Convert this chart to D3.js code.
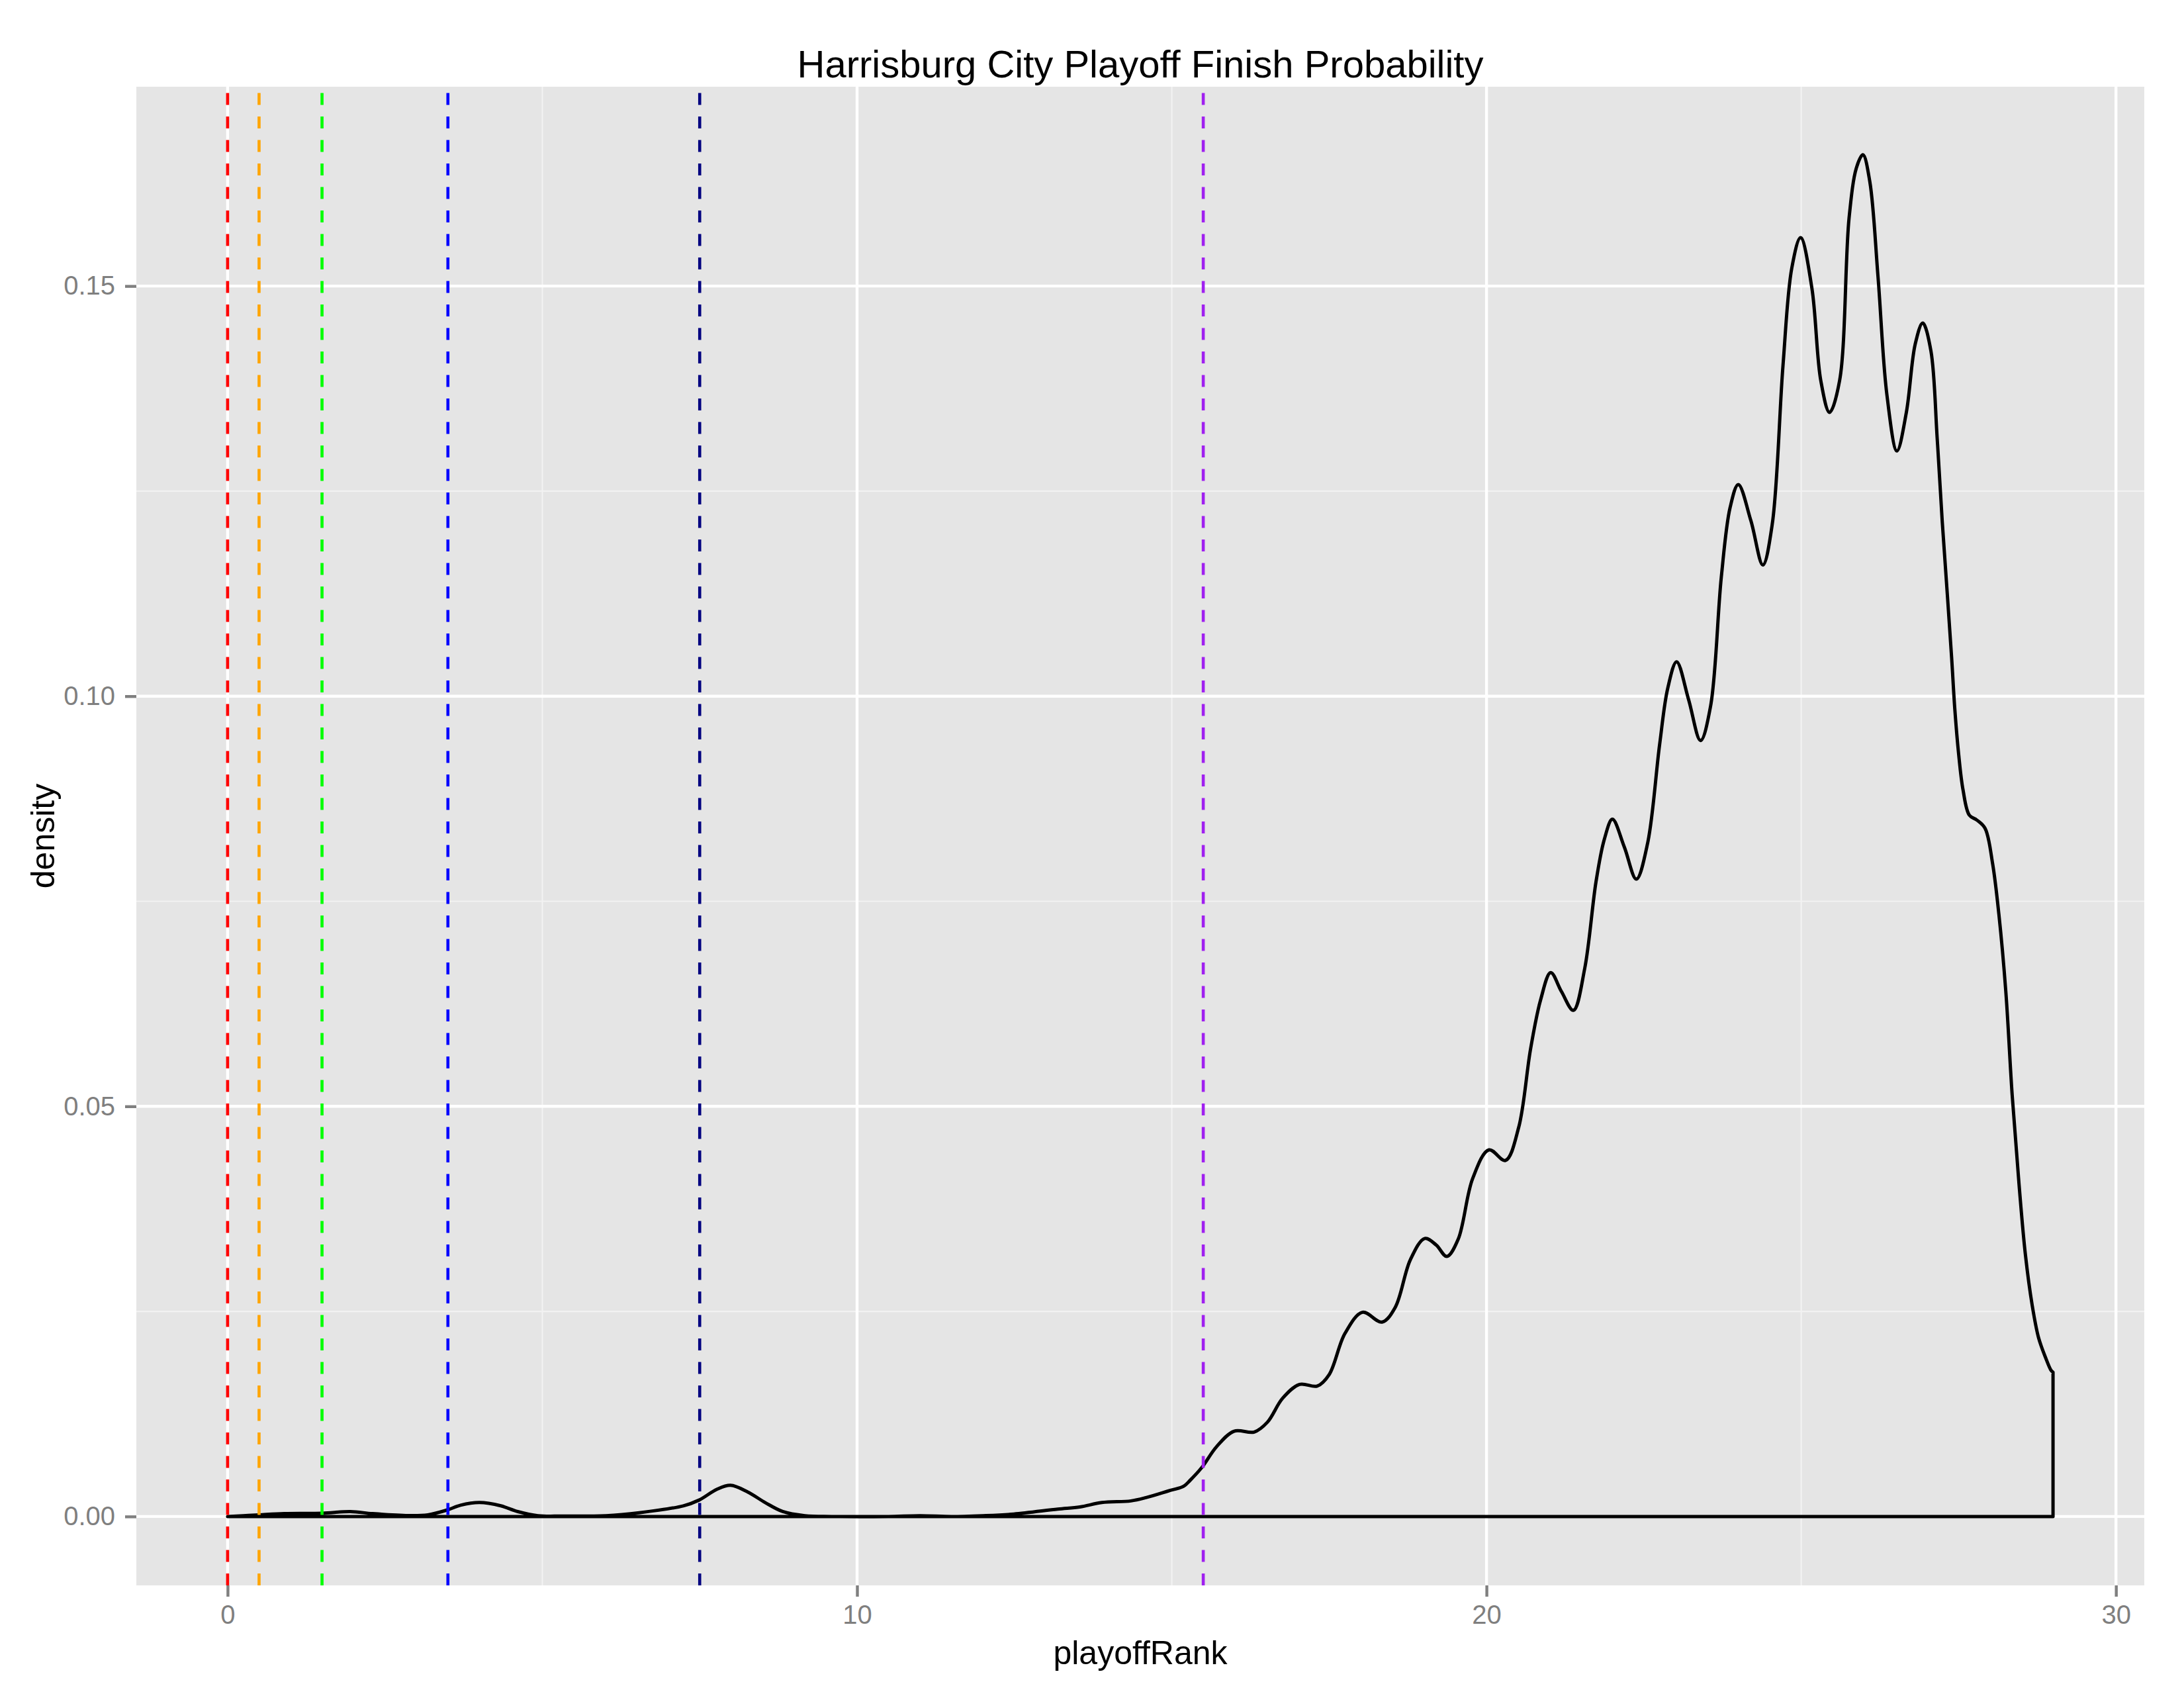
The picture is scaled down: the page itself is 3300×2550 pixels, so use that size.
<!DOCTYPE html>
<html>
<head>
<meta charset="utf-8">
<script src="https://d3js.org/d3.v7.min.js"></script>
<style>
  html, body { margin: 0; padding: 0; background: #ffffff; }
  svg { display: block; }
  text { font-family: "Liberation Sans", Arial, Helvetica, sans-serif; }
</style>
</head>
<body>
<script>
// ---- data ----
const titleText = "Harrisburg City Playoff Finish Probability";
const xLabel = "playoffRank";
const yLabel = "density";

const xTicks = [0, 10, 20, 30];
const xMinorTicks = [5, 15, 25];
const yTicks = [0, 0.05, 0.10, 0.15];
const yMinorTicks = [0.025, 0.075, 0.125];

// density estimate of playoffRank (x, density)
const rankX = [
  0, 0.25, 0.5, 0.9, 1.5, 1.95, 2.3, 2.83, 3.18, 3.49, 3.7, 4.0, 4.34, 4.61, 4.93, 5.31,
  6.01, 6.54, 7.24, 7.49, 7.77, 7.99, 8.26, 8.54, 8.82, 9.17, 9.6, 10.5, 11.0, 11.5, 12.0,
  12.49, 13.19, 13.54, 13.89, 14.35, 14.59, 14.94, 15.19, 15.29, 15.48, 15.71, 15.99,
  16.31, 16.52, 16.76, 17.03, 17.31, 17.5, 17.75, 18.03, 18.34, 18.55, 18.79, 19.02,
  19.2, 19.37, 19.55, 19.78, 20.04, 20.30, 20.51, 20.70, 20.86, 21.02, 21.19, 21.38,
  21.56, 21.74, 21.87, 22.0, 22.19, 22.38, 22.56, 22.75, 22.88, 23.02, 23.21, 23.40,
  23.56, 23.73, 23.87, 24.0, 24.2, 24.39, 24.54, 24.71, 24.85, 24.99, 25.17, 25.31,
  25.45, 25.61, 25.76, 25.88, 25.98, 26.09, 26.22, 26.36, 26.52, 26.67, 26.81, 26.93,
  27.06, 27.16, 27.24, 27.32, 27.39, 27.44, 27.50, 27.57, 27.67, 27.79, 27.92, 28.04,
  28.14, 28.25, 28.35, 28.46, 28.56, 28.67, 28.77, 28.88, 28.97, 29.0
];
const densityY = [
  0.0000, 0.0001, 0.0002, 0.00036, 0.0004, 0.0006, 0.00035, 0.00012, 0.0002, 0.0008, 0.00137, 0.0017, 0.0013, 0.0006, 0.0001, 0.00005,
  0.0001, 0.00046, 0.0013, 0.0020, 0.0033, 0.0038, 0.0030, 0.0017, 0.0006, 0.0001, 0.0000, 0.0000, 0.0001, 0.0000, 0.0001,
  0.0003, 0.0009, 0.00116, 0.0017, 0.0019, 0.0023, 0.0031, 0.0037, 0.0044, 0.0060, 0.0085, 0.0104,
  0.0103, 0.0115, 0.0144, 0.0161, 0.0159, 0.0173, 0.0223, 0.0249, 0.0237, 0.0255, 0.0313, 0.0339,
  0.0331, 0.0317, 0.0338, 0.0412, 0.0447, 0.0434, 0.0474, 0.0570, 0.0630, 0.0663, 0.0640, 0.0617,
  0.0668, 0.0774, 0.0825, 0.0850, 0.0816, 0.0777, 0.0821, 0.0941, 0.1010, 0.1042, 0.0996, 0.0946,
  0.0988, 0.1145, 0.1230, 0.1258, 0.1214, 0.1160, 0.1210, 0.1403, 0.1522, 0.1559, 0.1497, 0.1385,
  0.1346, 0.1385, 0.1583, 0.1645, 0.1660, 0.1627, 0.1511, 0.1368, 0.1299, 0.1346, 0.1429, 0.1455,
  0.1421, 0.1314, 0.1213, 0.1125, 0.1046, 0.0984, 0.0930, 0.0886, 0.0855, 0.0849, 0.0839, 0.0796,
  0.0734, 0.0640, 0.0515, 0.0405, 0.0320, 0.0257, 0.0218, 0.0194, 0.0178, 0.0176
];

// reference vertical lines
const vlineX = [0, 0.5, 1.5, 3.5, 7.5, 15.5];
const vlineColors = ["#ff0000", "#ffa500", "#00ff00", "#0000ff", "#000080", "#a020f0"];

// ---- layout ----
const W = 3300, H = 2550;
const panel = { left: 206, right: 3240, top: 131, bottom: 2395 };

const svg = d3.select("body").append("svg")
  .attr("width", W).attr("height", H)
  .attr("viewBox", `0 0 ${W} ${H}`);

svg.append("rect").attr("width", W).attr("height", H).attr("fill", "#ffffff");

const x = d3.scaleLinear().domain([-1.45, 30.45]).range([panel.left, panel.right]);
const y = d3.scaleLinear().domain([-0.0084, 0.1743]).range([panel.bottom, panel.top]);

// panel background
svg.append("rect")
  .attr("x", panel.left).attr("y", panel.top)
  .attr("width", panel.right - panel.left).attr("height", panel.bottom - panel.top)
  .attr("fill", "#e5e5e5");

const grid = svg.append("g");
// minor grid
grid.selectAll("line.ymin").data(yMinorTicks).join("line")
  .attr("class", "ymin")
  .attr("x1", panel.left).attr("x2", panel.right)
  .attr("y1", d => y(d)).attr("y2", d => y(d))
  .attr("stroke", "#f2f2f2").attr("stroke-width", 2.2);
grid.selectAll("line.xmin").data(xMinorTicks).join("line")
  .attr("class", "xmin")
  .attr("y1", panel.top).attr("y2", panel.bottom)
  .attr("x1", d => x(d)).attr("x2", d => x(d))
  .attr("stroke", "#f2f2f2").attr("stroke-width", 2.2);
// major grid
grid.selectAll("line.ymaj").data(yTicks).join("line")
  .attr("class", "ymaj")
  .attr("x1", panel.left).attr("x2", panel.right)
  .attr("y1", d => y(d)).attr("y2", d => y(d))
  .attr("stroke", "#ffffff").attr("stroke-width", 4.4);
grid.selectAll("line.xmaj").data(xTicks).join("line")
  .attr("class", "xmaj")
  .attr("y1", panel.top).attr("y2", panel.bottom)
  .attr("x1", d => x(d)).attr("x2", d => x(d))
  .attr("stroke", "#ffffff").attr("stroke-width", 4.4);

// density outline (closed polygon, no fill)
const pts = rankX.map((v, i) => [v, densityY[i]]);
const curve = d3.line().x(d => x(d[0])).y(d => y(d[1])).curve(d3.curveCatmullRom.alpha(0.5));
const lastX = rankX[rankX.length - 1], firstX = rankX[0];
const closeD = `L${x(lastX)},${y(0)}L${x(firstX)},${y(0)}Z`;
svg.append("path")
  .attr("d", curve(pts) + closeD)
  .attr("fill", "none")
  .attr("stroke", "#000000")
  .attr("stroke-width", 5)
  .attr("stroke-linejoin", "round");

// dashed vertical lines
const vl = d3.line().x(d => d[0]).y(d => d[1]);
svg.append("g").selectAll("path").data(vlineX).join("path")
  .attr("d", d => vl([[x(d), panel.bottom], [x(d), panel.top]]))
  .attr("stroke", (d, i) => vlineColors[i])
  .attr("stroke-width", 4.6)
  .attr("stroke-dasharray", "18,17.5")
  .attr("fill", "none");

// axes
const xAxis = d3.axisBottom(x).tickValues(xTicks).tickFormat(d3.format("d")).tickSize(17).tickPadding(13);
const yAxis = d3.axisLeft(y).tickValues(yTicks).tickFormat(d3.format(".2f")).tickSize(17).tickPadding(15);

const gx = svg.append("g").attr("transform", `translate(0,${panel.bottom})`).call(xAxis);
const gy = svg.append("g").attr("transform", `translate(${panel.left},0)`).call(yAxis);
[gx, gy].forEach(g => {
  g.select(".domain").remove();
  g.selectAll(".tick line").attr("stroke", "#7f7f7f").attr("stroke-width", 4.4);
  g.selectAll(".tick text")
    .attr("fill", "#7f7f7f")
    .style("font-size", "40px")
    .style("font-family", '"Liberation Sans", Arial, Helvetica, sans-serif');
});

// titles
const cx = (panel.left + panel.right) / 2;
const cy = (panel.top + panel.bottom) / 2;
svg.append("text")
  .attr("x", cx).attr("y", 117)
  .attr("text-anchor", "middle")
  .style("font-size", "58px")
  .attr("fill", "#000000")
  .text(titleText);

svg.append("text")
  .attr("x", cx).attr("y", 2514)
  .attr("text-anchor", "middle")
  .style("font-size", "50px")
  .attr("fill", "#000000")
  .text(xLabel);

svg.append("text")
  .attr("transform", `translate(82,${cy}) rotate(-90)`)
  .attr("text-anchor", "middle")
  .style("font-size", "50px")
  .attr("fill", "#000000")
  .text(yLabel);
</script>
</body>
</html>
